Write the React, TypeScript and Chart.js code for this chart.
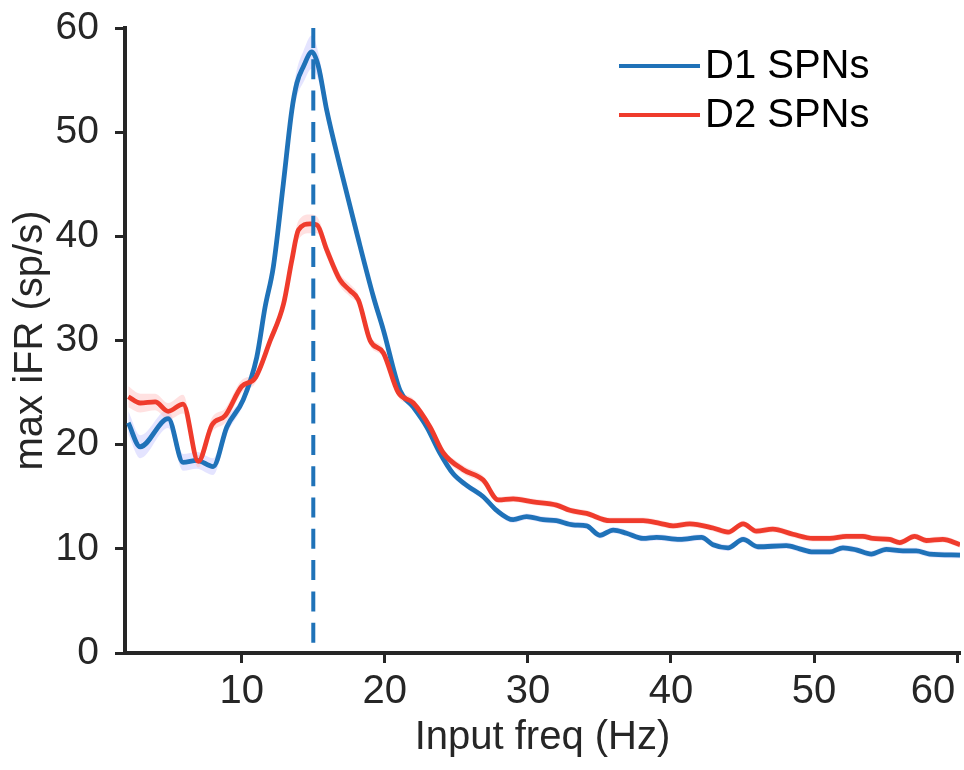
import React, { useEffect, useRef } from 'react';
import { Chart, registerables } from 'chart.js';

Chart.register(...registerables);

// ---- data ----
const d1Freq = [2.07, 2.9, 4.86, 5.9, 6.86, 8.0, 8.96, 10.1, 11.05, 11.63, 12.21, 12.91, 13.5, 13.85, 14.31, 14.9, 15.36, 15.94, 16.87, 18.04, 19.2, 19.9, 21.06, 21.99, 22.93, 23.85, 24.78, 25.72, 26.88, 27.81, 28.97, 29.91, 31.07, 32.0, 33.16, 34.1, 35.03, 35.96, 36.89, 38.05, 38.99, 40.62, 42.13, 42.94, 43.99, 45.04, 46.08, 48.06, 48.99, 49.92, 51.1, 52.02, 52.95, 54.0, 55.05, 56.21, 57.14, 58.07, 60.2];
const d1Rate = [22.1, 19.8, 22.5, 18.3, 18.5, 17.9, 21.7, 24.3, 28.4, 33.2, 37.1, 45.1, 52.1, 54.7, 56.3, 57.7, 56.3, 52.1, 46.7, 40.3, 34.2, 31.0, 25.2, 23.6, 21.7, 19.2, 17.2, 16.1, 15.0, 13.7, 12.8, 13.1, 12.8, 12.7, 12.3, 12.2, 11.3, 11.8, 11.5, 11.0, 11.1, 10.9, 11.1, 10.4, 10.1, 10.9, 10.2, 10.3, 10.0, 9.7, 9.7, 10.1, 9.9, 9.5, 9.95, 9.8, 9.8, 9.5, 9.4];
const d1Sem = [1.1, 1.1, 0.9, 0.8, 0.8, 0.8, 0.7, 0.5, 0.5, 0.6, 0.7, 0.9, 1.1, 1.3, 1.5, 1.6, 1.3, 0.9, 0.6, 0.4, 0.3, 0.3, 0.3, 0.3, 0.3, 0.3, 0.3, 0.3, 0.3, 0.3, 0.3, 0.3, 0.3, 0.3, 0.3, 0.3, 0.3, 0.3, 0.3, 0.3, 0.3, 0.3, 0.3, 0.3, 0.3, 0.3, 0.3, 0.3, 0.3, 0.3, 0.3, 0.3, 0.3, 0.3, 0.3, 0.3, 0.3, 0.3, 0.3];

const d2Freq = [2.07, 2.9, 3.95, 4.86, 5.9, 6.96, 7.92, 8.85, 10.0, 10.94, 11.99, 12.92, 13.5, 13.96, 14.78, 15.25, 15.94, 16.87, 17.57, 18.15, 18.97, 19.9, 20.94, 21.99, 23.16, 24.09, 25.48, 26.88, 27.93, 28.97, 30.37, 32.0, 32.93, 34.1, 35.73, 38.05, 39.22, 40.15, 41.31, 42.94, 43.99, 45.04, 45.97, 47.12, 48.52, 49.92, 51.1, 52.26, 53.41, 54.1, 55.28, 55.98, 57.03, 57.84, 59.0, 60.2];
const d2Rate = [24.6, 24.0, 24.1, 23.2, 23.9, 18.4, 21.9, 22.8, 25.6, 26.4, 30.0, 33.5, 37.7, 40.6, 41.2, 41.1, 38.7, 35.8, 34.8, 33.9, 30.0, 28.8, 25.0, 24.0, 21.7, 19.2, 17.6, 16.6, 14.7, 14.8, 14.5, 14.2, 13.7, 13.4, 12.7, 12.7, 12.45, 12.2, 12.4, 12.0, 11.6, 12.4, 11.7, 11.9, 11.4, 11.0, 11.0, 11.2, 11.2, 11.0, 10.9, 10.6, 11.2, 10.8, 10.9, 10.4];
const d2Sem = [1.0, 0.9, 0.8, 0.8, 0.9, 0.6, 0.7, 0.7, 0.6, 0.5, 0.5, 0.6, 0.8, 0.9, 0.9, 0.8, 0.7, 0.6, 0.6, 0.5, 0.5, 0.4, 0.4, 0.4, 0.4, 0.4, 0.4, 0.4, 0.3, 0.3, 0.3, 0.3, 0.3, 0.3, 0.3, 0.3, 0.3, 0.3, 0.3, 0.3, 0.3, 0.3, 0.3, 0.3, 0.3, 0.3, 0.3, 0.3, 0.3, 0.3, 0.3, 0.3, 0.3, 0.3, 0.3, 0.3];

const markerFreq = 15;
const xTickValues = [10, 20, 30, 40, 50, 60];
const yTickValues = [0, 10, 20, 30, 40, 50, 60];
const seriesLabels = ['D1 SPNs', 'D2 SPNs'];
const xTitle = 'Input freq (Hz)';
const yTitle = 'max iFR (sp/s)';

// ---- styles ----
const BLUE = '#1f72b8';
const RED = '#ef3b2c';
const BLUE_BAND = 'rgba(205, 205, 255, 0.55)';
const RED_BAND = 'rgba(255, 195, 195, 0.5)';
const AXIS = '#262626';
const FONT = "'Liberation Sans', Arial, Helvetica, sans-serif";

const toPoints = (xs: number[], ys: number[]) => xs.map((x, i) => ({ x, y: ys[i] }));
const offsetPoints = (xs: number[], ys: number[], e: number[], sign: number) =>
  xs.map((x, i) => ({ x, y: ys[i] + sign * e[i] }));

const legendPlugin = {
  id: 'manualLegend',
  afterDraw(chart: any) {
    const ctx = chart.ctx;
    ctx.save();
    const items = [
      { label: seriesLabels[0], color: BLUE, y: 66 },
      { label: seriesLabels[1], color: RED, y: 115 },
    ];
    ctx.font = `40px ${FONT}`;
    ctx.textBaseline = 'middle';
    ctx.textAlign = 'left';
    items.forEach((it) => {
      ctx.strokeStyle = it.color;
      ctx.lineWidth = 4;
      ctx.beginPath();
      ctx.moveTo(619, it.y);
      ctx.lineTo(700, it.y);
      ctx.stroke();
      ctx.fillStyle = '#000';
      ctx.fillText(it.label, 705, it.y + 1);
    });
    ctx.restore();
  },
};

// keep the last x tick label inside the canvas (right-aligned to its tick)
const lastLabelPlugin = {
  id: 'lastLabelAlign',
  beforeDraw(chart: any) {
    const s = chart.scales.x;
    if (!s) return;
    const items = s.getLabelItems(chart.chartArea);
    const last = items && items[items.length - 1];
    if (last && last.options && last.options.textAlign !== 'right') {
      last.options.textAlign = 'right';
      last.options.translation[0] -= 2;
    }
  },
};

export default function App() {
  const ref = useRef<HTMLCanvasElement | null>(null);

  useEffect(() => {
    document.body.style.margin = '0';
    const canvas = ref.current;
    if (!canvas) return;
    const lineCommon = {
      pointRadius: 0,
      cubicInterpolationMode: 'monotone' as const,
      fill: false,
    };
    const chart = new Chart(canvas, {
      type: 'line',
      data: {
        datasets: [
          {
            label: 'marker',
            data: [
              { x: markerFreq, y: 60 },
              { x: markerFreq, y: 0 },
            ],
            borderColor: BLUE,
            borderWidth: 4,
            borderDash: [20, 11.3],
            pointRadius: 0,
            fill: false,
            tension: 0,
          },
          {
            label: seriesLabels[1],
            data: toPoints(d2Freq, d2Rate),
            borderColor: RED,
            borderWidth: 4.8,
            ...lineCommon,
          },
          {
            label: seriesLabels[0],
            data: toPoints(d1Freq, d1Rate),
            borderColor: BLUE,
            borderWidth: 4.8,
            ...lineCommon,
          },
          {
            label: 'd2 upper',
            data: offsetPoints(d2Freq, d2Rate, d2Sem, 1),
            borderWidth: 0,
            borderColor: 'rgba(0,0,0,0)',
            backgroundColor: RED_BAND,
            pointRadius: 0,
            cubicInterpolationMode: 'monotone',
            fill: '+1',
          },
          {
            label: 'd2 lower',
            data: offsetPoints(d2Freq, d2Rate, d2Sem, -1),
            borderWidth: 0,
            borderColor: 'rgba(0,0,0,0)',
            pointRadius: 0,
            cubicInterpolationMode: 'monotone',
            fill: false,
          },
          {
            label: 'd1 upper',
            data: offsetPoints(d1Freq, d1Rate, d1Sem, 1),
            borderWidth: 0,
            borderColor: 'rgba(0,0,0,0)',
            backgroundColor: BLUE_BAND,
            pointRadius: 0,
            cubicInterpolationMode: 'monotone',
            fill: '+1',
          },
          {
            label: 'd1 lower',
            data: offsetPoints(d1Freq, d1Rate, d1Sem, -1),
            borderWidth: 0,
            borderColor: 'rgba(0,0,0,0)',
            pointRadius: 0,
            cubicInterpolationMode: 'monotone',
            fill: false,
          },
        ],
      },
      options: {
        responsive: false,
        animation: false,
        devicePixelRatio: 1,
        layout: { padding: { left: 0, right: 4, top: 28, bottom: 0 } },
        plugins: {
          legend: { display: false },
          tooltip: { enabled: false },
        },
        scales: {
          x: {
            type: 'linear',
            min: 1.84,
            max: 60.2,
            afterBuildTicks: (s: any) => {
              s.ticks = xTickValues.map((v) => ({ value: v }));
            },
            afterFit: (s: any) => {
              s.height = 117;
              s.paddingLeft = 0;
              s.paddingRight = 0;
            },
            ticks: {
              font: { family: FONT, size: 40 },
              color: AXIS,
              padding: 5,
              maxRotation: 0,
              autoSkip: false,
            },
            grid: {
              display: true,
              drawOnChartArea: false,
              drawTicks: true,
              tickLength: 10,
              tickWidth: 3,
              tickColor: AXIS,
            },
            border: { display: true, width: 4, color: AXIS },
            title: {
              display: true,
              text: xTitle,
              font: { family: FONT, size: 40 },
              color: AXIS,
              padding: { top: 0, bottom: 8 },
            },
          },
          y: {
            type: 'linear',
            min: 0,
            max: 60,
            afterBuildTicks: (s: any) => {
              s.ticks = yTickValues.map((v) => ({ value: v }));
            },
            afterFit: (s: any) => {
              s.width = 125;
              s.paddingTop = 0;
              s.paddingBottom = 0;
            },
            ticks: {
              font: { family: FONT, size: 39 },
              color: AXIS,
              padding: 16,
              autoSkip: false,
            },
            grid: {
              display: true,
              drawOnChartArea: false,
              drawTicks: true,
              tickLength: 10,
              tickWidth: 3,
              tickColor: AXIS,
            },
            border: { display: true, width: 4, color: AXIS },
            title: {
              display: true,
              text: yTitle,
              font: { family: FONT, size: 40 },
              color: AXIS,
              padding: { top: 7, bottom: 0 },
            },
          },
        },
      },
      plugins: [legendPlugin, lastLabelPlugin],
    } as any);
    return () => chart.destroy();
  }, []);

  return (
    <canvas
      ref={ref}
      width={964}
      height={770}
      style={{ display: 'block', width: 964, height: 770 }}
    />
  );
}
